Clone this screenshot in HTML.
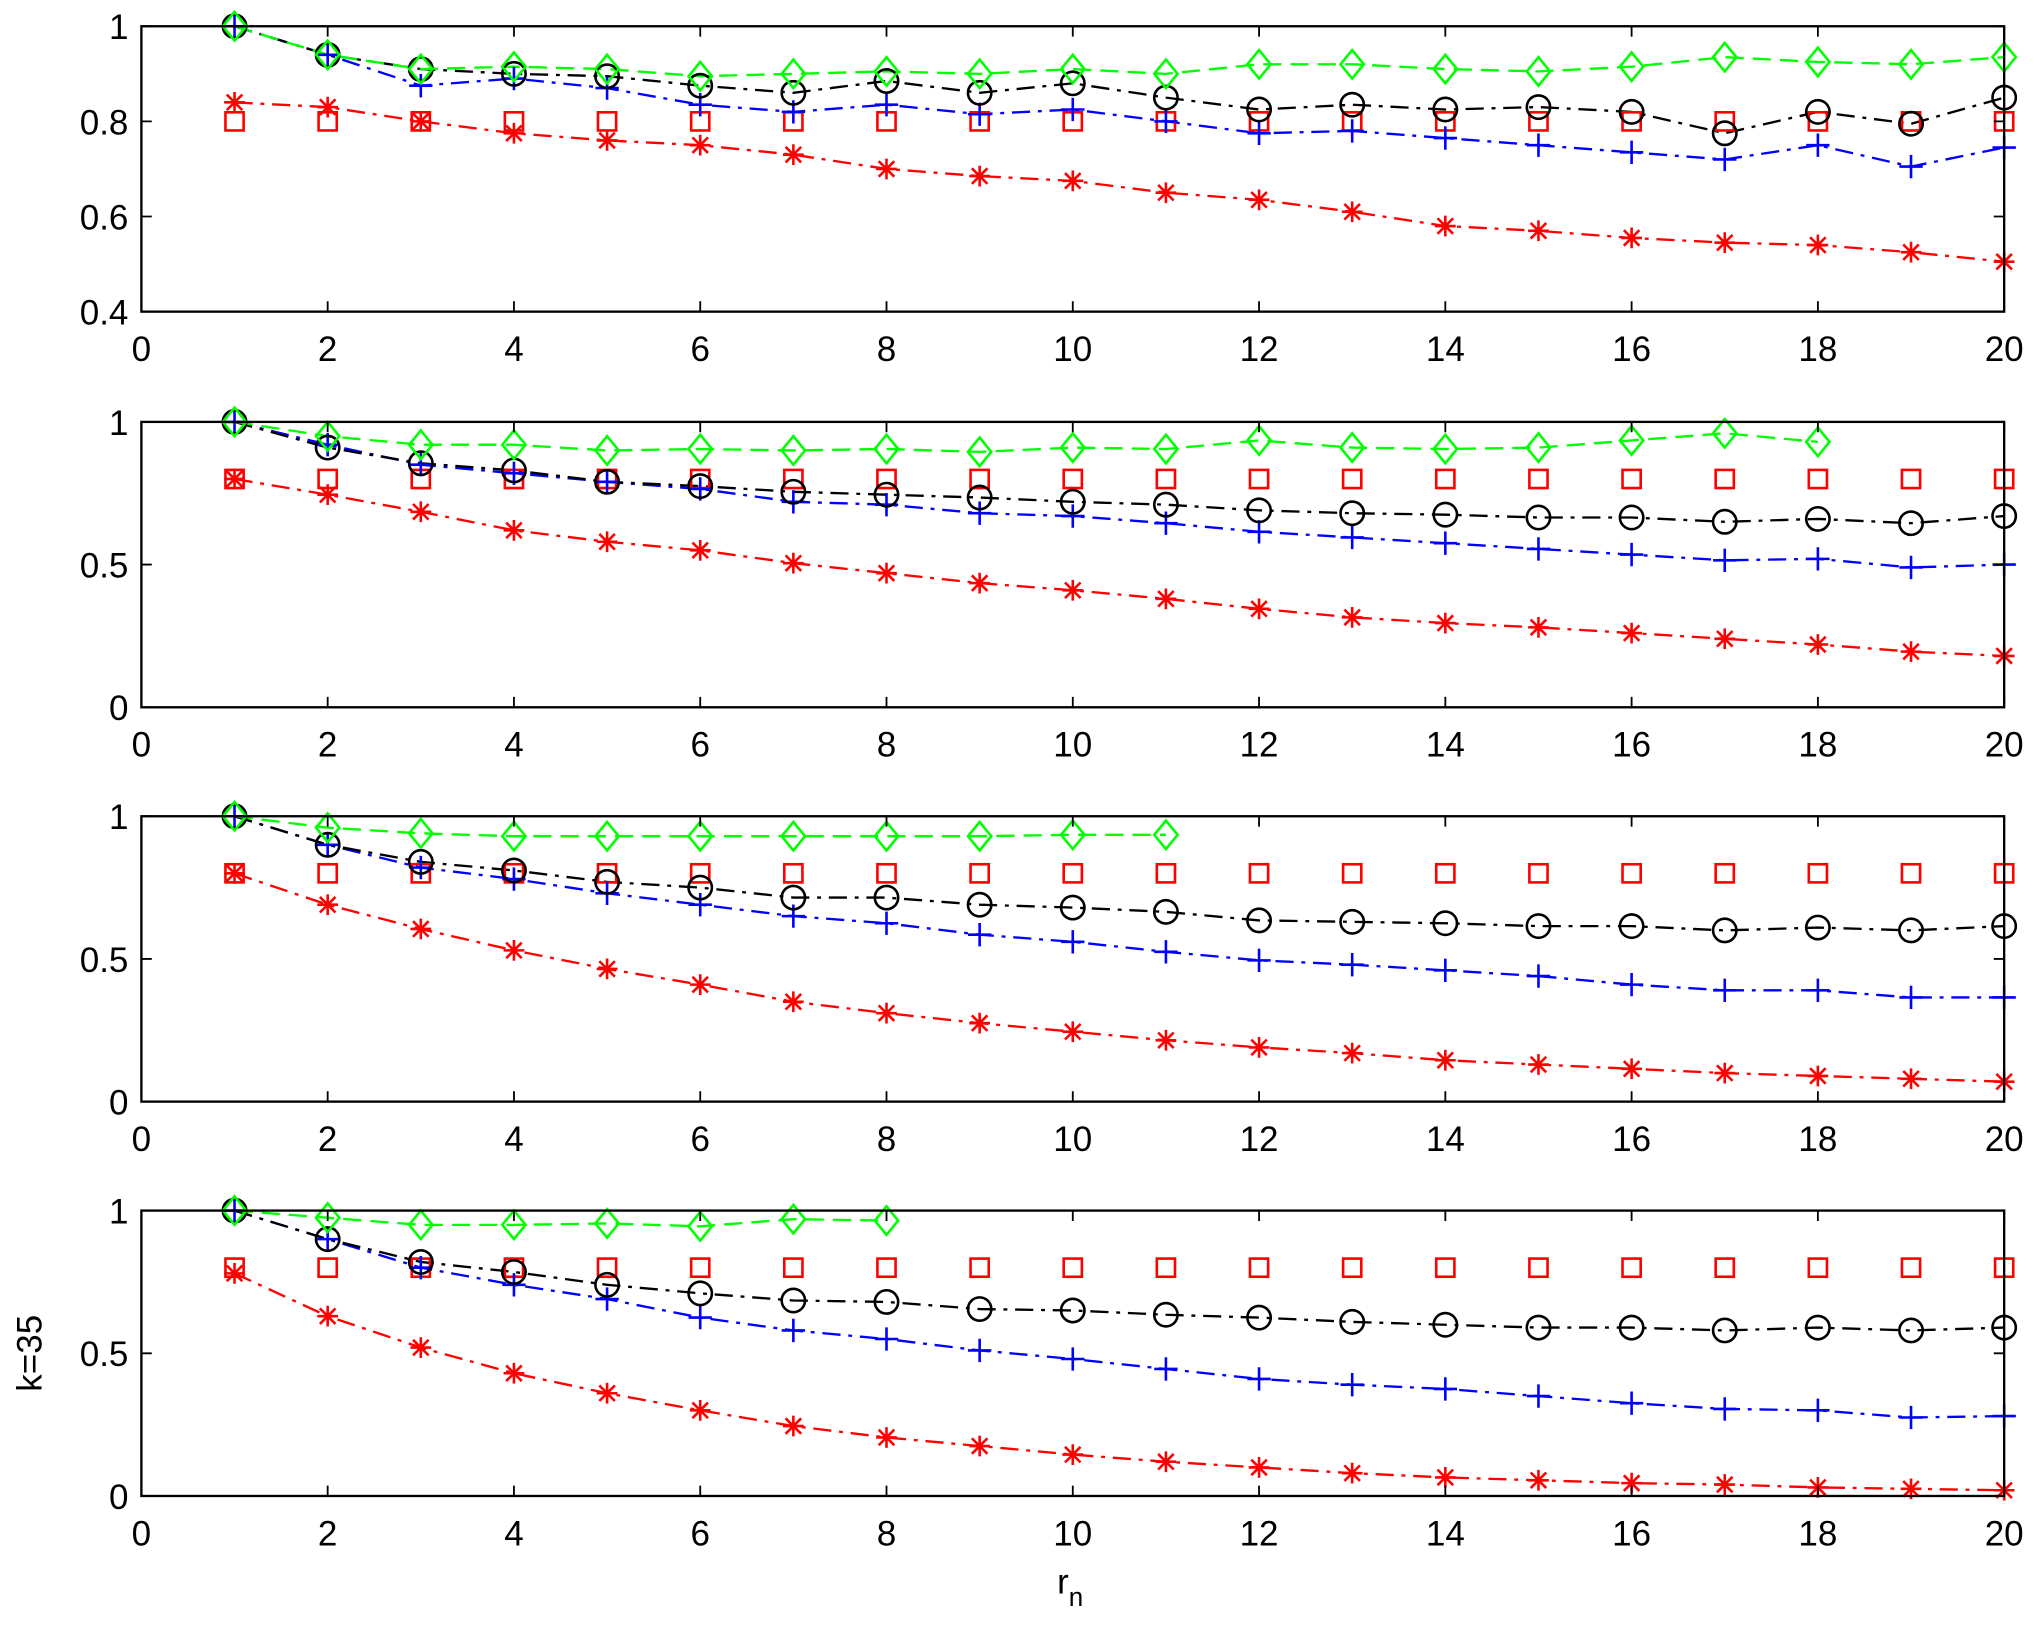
<!DOCTYPE html>
<html><head><meta charset="utf-8">
<style>html,body{margin:0;padding:0;background:#fff}svg{display:block}</style>
</head><body>
<svg id="s" width="2034" height="1626" viewBox="0 0 1568 1253" xmlns="http://www.w3.org/2000/svg" font-family="Liberation Sans, Arial, sans-serif"></svg>
<script>
const S=document.getElementById('s');let h='';
const x0=109,x1=1545,xs=(x1-x0)/20;
const X=i=>x0+i*xs;
const panels=[
{top:20,bot:240,ymin:0.4,ymax:1,yt:[0.4,0.6,0.8,1],yl:['0.4','0.6','0.8','1'],
g:[1,0.94,0.91,0.915,0.91,0.895,0.9,0.905,0.9,0.91,0.9,0.92,0.92,0.91,0.905,0.915,0.935,0.925,0.92,0.935],
k:[1,0.94,0.91,0.9,0.895,0.875,0.86,0.885,0.86,0.88,0.85,0.825,0.835,0.825,0.83,0.82,0.775,0.82,0.795,0.85],
b:[1,0.94,0.875,0.89,0.87,0.835,0.82,0.835,0.815,0.825,0.8,0.775,0.78,0.765,0.75,0.735,0.72,0.75,0.705,0.745],
r:[0.84,0.83,0.8,0.775,0.76,0.75,0.73,0.7,0.685,0.675,0.65,0.635,0.61,0.58,0.57,0.555,0.545,0.54,0.525,0.505]},
{top:325,bot:545,ymin:0,ymax:1,yt:[0,0.5,1],yl:['0','0.5','1'],
g:[1,0.95,0.92,0.92,0.9,0.905,0.9,0.905,0.895,0.91,0.905,0.935,0.91,0.905,0.91,0.935,0.96,0.93],
k:[1,0.91,0.855,0.83,0.79,0.775,0.755,0.745,0.735,0.72,0.71,0.69,0.68,0.675,0.665,0.665,0.65,0.66,0.645,0.67],
b:[1,0.92,0.85,0.82,0.79,0.765,0.72,0.71,0.68,0.67,0.645,0.615,0.595,0.575,0.555,0.535,0.515,0.52,0.49,0.5],
r:[0.8,0.745,0.685,0.62,0.58,0.55,0.505,0.47,0.435,0.41,0.38,0.345,0.315,0.295,0.28,0.26,0.24,0.22,0.195,0.18]},
{top:629,bot:849,ymin:0,ymax:1,yt:[0,0.5,1],yl:['0','0.5','1'],
g:[1,0.96,0.94,0.93,0.93,0.93,0.93,0.93,0.93,0.935,0.935],
k:[1,0.9,0.84,0.81,0.77,0.75,0.715,0.715,0.69,0.68,0.665,0.635,0.63,0.625,0.615,0.615,0.6,0.61,0.6,0.615],
b:[1,0.9,0.82,0.78,0.73,0.69,0.65,0.625,0.585,0.56,0.525,0.495,0.48,0.46,0.44,0.41,0.39,0.39,0.365,0.365],
r:[0.8,0.69,0.605,0.53,0.465,0.41,0.35,0.31,0.275,0.245,0.215,0.19,0.17,0.145,0.13,0.115,0.1,0.09,0.08,0.07]},
{top:933,bot:1153,ymin:0,ymax:1,yt:[0,0.5,1],yl:['0','0.5','1'],
g:[1,0.975,0.95,0.95,0.955,0.945,0.97,0.965],
k:[1,0.9,0.82,0.785,0.74,0.71,0.685,0.68,0.655,0.65,0.635,0.625,0.61,0.6,0.59,0.59,0.58,0.59,0.58,0.59],
b:[1,0.9,0.8,0.74,0.69,0.625,0.58,0.55,0.51,0.48,0.445,0.41,0.39,0.375,0.35,0.325,0.305,0.3,0.275,0.28],
r:[0.78,0.63,0.52,0.43,0.36,0.3,0.245,0.205,0.175,0.145,0.12,0.1,0.08,0.065,0.055,0.045,0.04,0.03,0.025,0.02]}];
for(const p of panels){
 const Y=v=>p.bot-(v-p.ymin)/(p.ymax-p.ymin)*(p.bot-p.top);
 const pts=a=>a.map((v,i)=>X(i+1).toFixed(1)+','+Y(v).toFixed(1)).join(' ');
 const line=(a,c,d)=>h+=`<polyline points="${pts(a)}" fill="none" stroke="${c}" stroke-width="1.8" stroke-dasharray="${d}"/>`;
 line(p.r,'#f00','14,6,3,6');line(p.b,'#00f','14,6,3,6');line(p.k,'#000','14,6,3,6');line(p.g,'#0f0','14,7');
 for(let i=1;i<=20;i++){const x=X(i),y=Y(0.8);h+=`<rect x="${x-7}" y="${y-7}" width="14" height="14" fill="none" stroke="#f00" stroke-width="2"/>`;}
 p.r.forEach((v,i)=>{const x=X(i+1),y=Y(v),d=8;h+=`<path d="M${x-d} ${y}H${x+d}M${x} ${y-d}V${y+d}M${x-6} ${y-6}L${x+6} ${y+6}M${x-6} ${y+6}L${x+6} ${y-6}" stroke="#f00" stroke-width="2"/>`;});
 p.b.forEach((v,i)=>{const x=X(i+1),y=Y(v),d=9;h+=`<path d="M${x-d} ${y}H${x+d}M${x} ${y-d}V${y+d}" stroke="#00f" stroke-width="2"/>`;});
 p.k.forEach((v,i)=>{h+=`<circle cx="${X(i+1)}" cy="${Y(v)}" r="9" fill="none" stroke="#000" stroke-width="2"/>`;});
 p.g.forEach((v,i)=>{const x=X(i+1),y=Y(v);h+=`<path d="M${x} ${y-11}L${x+9} ${y}L${x} ${y+11}L${x-9} ${y}Z" fill="none" stroke="#0f0" stroke-width="2"/>`;});
 h+=`<rect x="${x0}" y="${p.top}" width="${x1-x0}" height="${p.bot-p.top}" fill="none" stroke="#000" stroke-width="1.8"/>`;
 for(let t=0;t<=20;t+=2){const x=X(t);h+=`<path d="M${x} ${p.bot}v-8M${x} ${p.top}v8" stroke="#000" stroke-width="1.4"/><text x="${x}" y="${p.bot+38}" font-size="27" text-anchor="middle">${t}</text>`;}
 p.yt.forEach((v,j)=>{const y=Y(v);h+=`<path d="M${x0} ${y}h8M${x1} ${y}h-8" stroke="#000" stroke-width="1.4"/><text x="${x0-10}" y="${y+10}" font-size="27" text-anchor="end">${p.yl[j]}</text>`;});
}
h+=`<text x="825" y="1228" font-size="27" text-anchor="middle">r<tspan font-size="20" dy="10">n</tspan></text>`;
h+=`<text transform="translate(32,1043) rotate(-90)" font-size="27" text-anchor="middle">k=35</text>`;
S.innerHTML=h;
</script>
</body></html>
